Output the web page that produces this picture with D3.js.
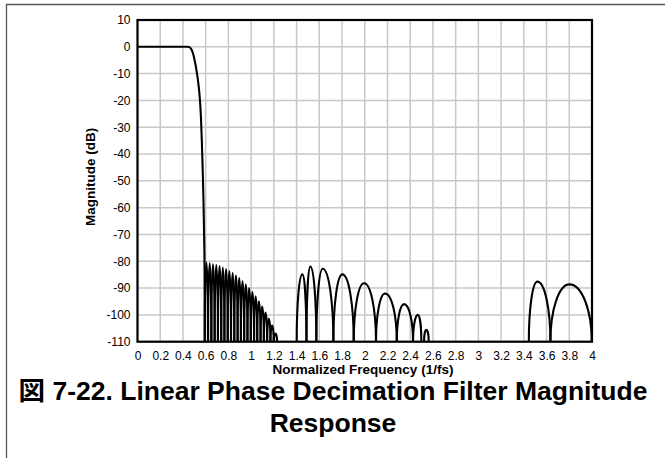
<!DOCTYPE html>
<html>
<head>
<meta charset="utf-8">
<script src="https://cdn.jsdelivr.net/npm/d3@7"></script>
<style>
  html, body { margin: 0; padding: 0; background: #fff; }
  svg { display: block; }
  text { font-family: "Liberation Sans", Arial, "Noto Sans CJK JP", sans-serif; fill: #000; }
</style>
</head>
<body>
<svg id="chart" width="665" height="458"></svg>
<script>
// ---------- data ----------
const xTickValues = [0, 0.2, 0.4, 0.6, 0.8, 1, 1.2, 1.4, 1.6, 1.8, 2, 2.2, 2.4, 2.6, 2.8, 3, 3.2, 3.4, 3.6, 3.8, 4];
const xTickLabels = ["0", "0.2", "0.4", "0.6", "0.8", "1", "1.2", "1.4", "1.6", "1.8", "2", "2.2", "2.4", "2.6", "2.8", "3", "3.2", "3.4", "3.6", "3.8", "4"];
const yTickValues = [10, 0, -10, -20, -30, -40, -50, -60, -70, -80, -90, -100, -110];
const yTickLabels = ["10", "0", "-10", "-20", "-30", "-40", "-50", "-60", "-70", "-80", "-90", "-100", "-110"];

// passband + transition band
const passFreq = [0, 0.44, 0.46, 0.475, 0.49, 0.505, 0.52, 0.535, 0.548, 0.558, 0.566, 0.574, 0.581, 0.586, 0.590, 0.592];
const passDb   = [0, 0, -0.2, -1, -2.7, -5.5, -9, -13.5, -19, -26, -35, -46, -58, -70, -82, -110];

// first stopband: dense narrow lobes (nulls and peak levels)
const sb1Nulls = [0.592, 0.621, 0.650, 0.679, 0.708, 0.737, 0.765, 0.794, 0.823, 0.852, 0.881, 0.910,
                  0.939, 0.968, 0.997, 1.026, 1.054, 1.083, 1.112, 1.141, 1.170, 1.199, 1.228];
const sb1PeakDb = [-80.5, -80.8, -81.1, -81.4, -81.8, -82.3, -82.9, -83.6, -84.4, -85.3, -86.3,
                   -87.4, -88.6, -90.0, -91.5, -93.1, -94.9, -96.9, -99.1, -101.5, -104.0, -107.0];

// wide lobes further out
const lobeStart    = [1.401, 1.487, 1.574, 1.724, 1.903, 2.099, 2.282, 2.425, 2.522, 3.444, 3.634];
const lobePeakFreq = [1.451, 1.521, 1.630, 1.803, 1.994, 2.179, 2.346, 2.467, 2.542, 3.519, 3.801];
const lobePeakDb   = [-84.9, -82.0, -82.8, -84.9, -88.2, -92.0, -96.0, -100.0, -105.6, -87.6, -88.6];
const lobeEnd      = [1.487, 1.574, 1.724, 1.903, 2.099, 2.282, 2.425, 2.498, 2.563, 3.634, 3.998];

const xTitle = "Normalized Frequency (1/fs)";
const yTitle = "Magnitude (dB)";
const captionLines = ["図 7-22. Linear Phase Decimation Filter Magnitude", "Response"];

// ---------- layout ----------
const svg = d3.select("#chart");
const plot = { left: 137.5, top: 20, right: 592, bottom: 341.7 };

const x = d3.scaleLinear().domain([0, 4]).range([plot.left, plot.right]);
const y = d3.scaleLinear().domain([-110, 10]).range([plot.bottom, plot.top]);

// outer frame
svg.append("path")
  .attr("d", `M6.5,470 L6.5,4.5 L680,4.5`)
  .attr("fill", "none").attr("stroke", "#555").attr("stroke-width", 1.3);

// clip
svg.append("clipPath").attr("id", "clip")
  .append("rect").attr("x", plot.left).attr("y", plot.top)
  .attr("width", plot.right - plot.left).attr("height", plot.bottom - plot.top);

// grid
const grid = svg.append("g").attr("stroke", "#c8c8c8").attr("stroke-width", 1.5);
grid.selectAll("line.v").data(xTickValues).join("line")
  .attr("x1", d => x(d)).attr("x2", d => x(d))
  .attr("y1", plot.top).attr("y2", plot.bottom);
grid.selectAll("line.h").data(yTickValues).join("line")
  .attr("x1", plot.left).attr("x2", plot.right)
  .attr("y1", d => y(d)).attr("y2", d => y(d));

// axes (labels via d3 axes, domain/ticks hidden)
const xAxis = d3.axisBottom(x).tickValues(xTickValues)
  .tickFormat((d, i) => xTickLabels[i]).tickSize(0).tickPadding(10);
const gx = svg.append("g").attr("transform", `translate(0,${plot.bottom})`).call(xAxis);
gx.select(".domain").remove();
gx.selectAll("text").style("font-size", "12px").attr("fill", "#000")
  .style("font-family", '"Liberation Sans", Arial, sans-serif');

const yAxis = d3.axisLeft(y).tickValues(yTickValues)
  .tickFormat((d, i) => yTickLabels[i]).tickSize(0).tickPadding(7);
const gy = svg.append("g").attr("transform", `translate(${plot.left},0)`).call(yAxis);
gy.select(".domain").remove();
gy.selectAll("text").style("font-size", "12px").attr("fill", "#000")
  .style("font-family", '"Liberation Sans", Arial, sans-serif');

// curve
const curveG = svg.append("g").attr("clip-path", "url(#clip)")
  .attr("fill", "none").attr("stroke", "#000").attr("stroke-width", 2.1)
  .attr("stroke-linejoin", "round");

const passData = passFreq.map((f, i) => [f, passDb[i]]);
curveG.append("path")
  .attr("d", d3.line().x(d => x(d[0])).y(d => y(d[1])).curve(d3.curveMonotoneX)(passData));

// lobe table
const lobes = [];
sb1PeakDb.forEach((p, i) => {
  lobes.push({ a: sb1Nulls[i], m: (sb1Nulls[i] + sb1Nulls[i + 1]) / 2, p: p, b: sb1Nulls[i + 1] });
});
lobeStart.forEach((a, i) => {
  lobes.push({ a: a, m: lobePeakFreq[i], p: lobePeakDb[i], b: lobeEnd[i] });
});

const K = 0.5523;
function lobePath(d) {
  const xa = x(d.a), xm = x(d.m), xb = x(d.b), yb = y(-110), yp = y(d.p);
  const p = d3.path();
  p.moveTo(xa, yb + 3);
  p.lineTo(xa, yb);
  p.bezierCurveTo(xa, yb + K * (yp - yb), xm - K * (xm - xa), yp, xm, yp);
  p.bezierCurveTo(xm + K * (xb - xm), yp, xb, yb + K * (yp - yb), xb, yb);
  p.lineTo(xb, yb + 3);
  return p.toString();
}
curveG.selectAll("path.lobe").data(lobes).join("path")
  .attr("class", "lobe").attr("d", lobePath);

// plot border
svg.append("rect")
  .attr("x", plot.left).attr("y", plot.top)
  .attr("width", plot.right - plot.left).attr("height", plot.bottom - plot.top)
  .attr("fill", "none").attr("stroke", "#000").attr("stroke-width", 2.2);

// axis titles
svg.append("text")
  .attr("x", 363).attr("y", 374)
  .attr("text-anchor", "middle").style("font-size", "13.5px").style("font-weight", "bold")
  .text(xTitle);
svg.append("text")
  .attr("transform", `translate(95,177) rotate(-90)`)
  .attr("text-anchor", "middle").style("font-size", "13.5px").style("font-weight", "bold")
  .text(yTitle);

// caption
svg.selectAll("text.cap").data(captionLines).join("text")
  .attr("class", "cap")
  .attr("x", 333).attr("y", (d, i) => 400 + i * 32)
  .attr("text-anchor", "middle")
  .style("font-size", "26.5px").style("font-weight", "bold")
  .text(d => d);
</script>
</body>
</html>
